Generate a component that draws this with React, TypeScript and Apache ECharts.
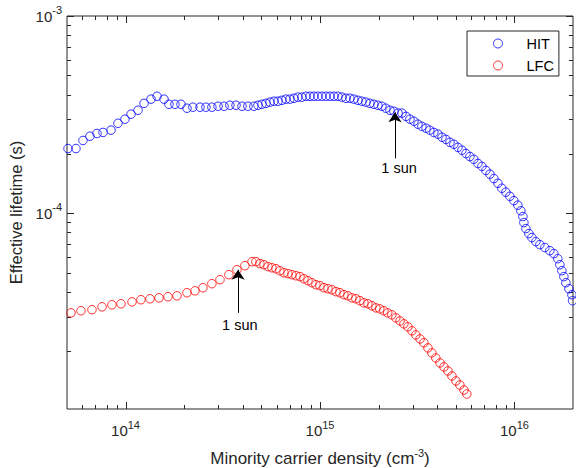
import React, { useEffect, useRef } from 'react';
import * as echarts from 'echarts';

// HIT (blue) data: minority carrier density (cm^-3) vs effective lifetime (s)
const hitDensity = [
  5.06e13, 5.56e13, 6.04e13, 6.56e13, 7.13e13, 7.66e13, 8.42e13, 9.14e13, 9.93e13, 1.067e14,
  1.159e14, 1.245e14, 1.352e14, 1.452e14, 1.577e14, 1.672e14, 1.795e14, 1.928e14, 2.07e14, 2.22e14,
  2.415e14, 2.59e14, 2.78e14, 2.99e14, 3.21e14, 3.44e14, 3.70e14, 3.97e14, 4.26e14, 4.57e14,
  4.80e14, 5.03e14, 5.27e14, 5.53e14, 5.80e14, 6.08e14, 6.37e14, 6.68e14, 7.00e14, 7.35e14,
  7.70e14, 8.07e14, 8.47e14, 8.88e14, 9.31e14, 9.75e14, 1.023e15, 1.073e15, 1.125e15, 1.18e15,
  1.236e15, 1.297e15, 1.36e15, 1.425e15, 1.494e15, 1.567e15, 1.643e15, 1.722e15, 1.806e15, 1.893e15,
  1.985e15, 2.08e15, 2.18e15, 2.29e15, 2.40e15, 2.52e15, 2.64e15, 2.77e15, 2.90e15, 3.04e15,
  3.19e15, 3.34e15, 3.51e15, 3.67e15, 3.85e15, 4.04e15, 4.24e15, 4.44e15, 4.66e15, 4.88e15,
  5.12e15, 5.37e15, 5.63e15, 5.90e15, 6.18e15, 6.49e15, 6.80e15, 7.13e15, 7.48e15, 7.84e15,
  8.22e15, 8.61e15, 9.03e15, 9.47e15, 9.93e15, 1.041e16, 1.079e16, 1.105e16, 1.118e16, 1.145e16,
  1.186e16, 1.229e16, 1.288e16, 1.351e16, 1.433e16, 1.52e16, 1.594e16, 1.67e16, 1.712e16, 1.753e16,
  1.795e16, 1.838e16, 1.905e16, 1.974e16, 1.99e16,
];
const hitLifetime = [
  2.13e-4, 2.13e-4, 2.34e-4, 2.46e-4, 2.54e-4, 2.57e-4, 2.64e-4, 2.86e-4, 3.00e-4, 3.18e-4,
  3.33e-4, 3.61e-4, 3.79e-4, 3.92e-4, 3.79e-4, 3.57e-4, 3.57e-4, 3.57e-4, 3.41e-4, 3.45e-4,
  3.45e-4, 3.45e-4, 3.45e-4, 3.49e-4, 3.49e-4, 3.53e-4, 3.53e-4, 3.49e-4, 3.49e-4, 3.49e-4,
  3.53e-4, 3.57e-4, 3.61e-4, 3.66e-4, 3.70e-4, 3.70e-4, 3.74e-4, 3.79e-4, 3.79e-4, 3.83e-4,
  3.88e-4, 3.88e-4, 3.92e-4, 3.92e-4, 3.92e-4, 3.92e-4, 3.92e-4, 3.92e-4, 3.92e-4, 3.92e-4,
  3.92e-4, 3.88e-4, 3.83e-4, 3.83e-4, 3.79e-4, 3.74e-4, 3.70e-4, 3.66e-4, 3.61e-4, 3.57e-4,
  3.53e-4, 3.49e-4, 3.41e-4, 3.33e-4, 3.29e-4, 3.22e-4, 3.22e-4, 3.10e-4, 3.00e-4, 2.93e-4,
  2.83e-4, 2.76e-4, 2.70e-4, 2.64e-4, 2.57e-4, 2.52e-4, 2.43e-4, 2.37e-4, 2.29e-4, 2.24e-4,
  2.16e-4, 2.09e-4, 2.01e-4, 1.94e-4, 1.88e-4, 1.79e-4, 1.73e-4, 1.65e-4, 1.58e-4, 1.50e-4,
  1.42e-4, 1.34e-4, 1.28e-4, 1.22e-4, 1.16e-4, 1.10e-4, 1.03e-4, 9.63e-5, 8.98e-5, 8.37e-5,
  7.90e-5, 7.54e-5, 7.19e-5, 6.94e-5, 6.71e-5, 6.47e-5, 6.25e-5, 5.89e-5, 5.49e-5, 5.12e-5,
  4.78e-5, 4.45e-5, 4.15e-5, 3.87e-5, 3.61e-5,
];

// LFC (red) data
const lfcDensity = [
  5.24e13, 5.90e13, 6.72e13, 7.57e13, 8.51e13, 9.48e13, 1.08e14, 1.20e14, 1.336e14, 1.486e14,
  1.653e14, 1.839e14, 2.07e14, 2.275e14, 2.50e14, 2.78e14, 3.06e14, 3.40e14, 3.74e14, 4.11e14,
  4.47e14, 4.68e14, 4.91e14, 5.15e14, 5.40e14, 5.66e14, 5.94e14, 6.22e14, 6.53e14, 6.84e14,
  7.17e14, 7.52e14, 7.89e14, 8.27e14, 8.67e14, 9.09e14, 9.53e14, 9.99e14, 1.048e15, 1.099e15,
  1.152e15, 1.208e15, 1.266e15, 1.328e15, 1.392e15, 1.459e15, 1.53e15, 1.604e15, 1.682e15, 1.764e15,
  1.849e15, 1.939e15, 2.03e15, 2.13e15, 2.23e15, 2.34e15, 2.455e15, 2.58e15, 2.70e15, 2.83e15,
  2.97e15, 3.11e15, 3.27e15, 3.42e15, 3.59e15, 3.76e15, 3.94e15, 4.14e15, 4.34e15, 4.55e15,
  4.77e15, 5.00e15, 5.24e15, 5.50e15, 5.69e15,
];
const lfcLifetime = [
  3.13e-5, 3.21e-5, 3.25e-5, 3.36e-5, 3.44e-5, 3.48e-5, 3.56e-5, 3.65e-5, 3.69e-5, 3.73e-5,
  3.78e-5, 3.82e-5, 3.96e-5, 4.05e-5, 4.20e-5, 4.40e-5, 4.61e-5, 4.89e-5, 5.18e-5, 5.43e-5,
  5.69e-5, 5.69e-5, 5.56e-5, 5.49e-5, 5.37e-5, 5.30e-5, 5.24e-5, 5.12e-5, 5.00e-5, 4.95e-5,
  4.89e-5, 4.83e-5, 4.78e-5, 4.66e-5, 4.56e-5, 4.45e-5, 4.35e-5, 4.30e-5, 4.20e-5, 4.15e-5,
  4.10e-5, 4.01e-5, 3.96e-5, 3.87e-5, 3.82e-5, 3.73e-5, 3.69e-5, 3.61e-5, 3.52e-5, 3.48e-5,
  3.40e-5, 3.32e-5, 3.28e-5, 3.21e-5, 3.13e-5, 3.06e-5, 2.955e-5, 2.85e-5, 2.755e-5, 2.66e-5,
  2.54e-5, 2.42e-5, 2.31e-5, 2.21e-5, 2.08e-5, 1.963e-5, 1.851e-5, 1.746e-5, 1.666e-5, 1.59e-5,
  1.499e-5, 1.415e-5, 1.35e-5, 1.273e-5, 1.215e-5,
];

// tick values
const xMajorTicks = [1e14, 1e15, 1e16];
const xMinorTicks = [6e13, 7e13, 8e13, 9e13, 2e14, 3e14, 4e14, 5e14, 6e14, 7e14, 8e14, 9e14,
  2e15, 3e15, 4e15, 5e15, 6e15, 7e15, 8e15, 9e15];
const yMajorTicks = [1e-4, 1e-3];
const yMinorTicks = [2e-5, 3e-5, 4e-5, 5e-5, 6e-5, 7e-5, 8e-5, 9e-5, 2e-4, 3e-4, 4e-4, 5e-4, 6e-4, 7e-4, 8e-4, 9e-4];

// axis bounds
const X_MIN = 5e13;
const X_MAX = 2e16;
const Y_MIN = 1.02e-5;
const Y_MAX = 1e-3;

// "1 sun" annotations: [x, tailY, tipY] and label [x, y]
const sunHitArrow = [2.43e15, 1.90e-4, 3.25e-4];
const sunHitLabel = [2.55e15, 1.69e-4];
const sunLfcArrow = [3.79e14, 3.13e-5, 5.18e-5];
const sunLfcLabel = [3.87e14, 2.72e-5];

const AX = '#262626';
const FONT = '"Liberation Sans", Arial, Helvetica, sans-serif';

function expLabel(v: number) {
  const e = Math.log10(v);
  if (Math.abs(e - Math.round(e)) > 1e-6) return '';
  return `{b|10}{e|${Math.round(e)}}`;
}

const richLabel = {
  b: { fontSize: 15, fontFamily: FONT, color: AX },
  e: { fontSize: 11, fontFamily: FONT, color: AX, padding: [0, 0, 12, 0] },
};

function annotation(arrow: number[], label: number[]) {
  return {
    markLine: {
      silent: true,
      animation: false,
      symbol: ['none', 'arrow'],
      symbolSize: 10,
      lineStyle: { color: '#000', width: 1, type: 'solid' },
      label: { show: false },
      emphasis: { disabled: true },
      data: [[{ coord: [arrow[0], arrow[1]] }, { coord: [arrow[0], arrow[2]] }]],
    },
    markPoint: {
      silent: true,
      animation: false,
      symbol: 'rect',
      symbolSize: 1,
      itemStyle: { color: 'rgba(0,0,0,0)' },
      label: { show: true, position: 'inside', formatter: '1 sun', color: '#000', fontSize: 14.5, fontFamily: FONT },
      data: [{ coord: [label[0], label[1]] }],
    },
  };
}

export default function App() {
  const ref = useRef<HTMLDivElement>(null);
  useEffect(() => {
    document.body.style.margin = '0';
    const chart = echarts.init(ref.current!, null, { renderer: 'svg' });

    const hitData = hitDensity.map((x, i) => [x, hitLifetime[i]]);
    const lfcData = lfcDensity.map((x, i) => [x, lfcLifetime[i]]);
    const xTickData = [
      ...xMajorTicks.map((v) => [v, Y_MIN, 1]),
      ...xMinorTicks.map((v) => [v, Y_MIN, 0]),
    ];
    const yTickData = [
      ...yMajorTicks.map((v) => [X_MIN, v, 1]),
      ...yMinorTicks.map((v) => [X_MIN, v, 0]),
    ];

    const option: any = {
      animation: false,
      backgroundColor: '#fff',
      textStyle: { fontFamily: FONT },
      grid: {
        left: 67, right: 3, top: 16, bottom: 59,
        show: true, borderColor: AX, borderWidth: 1, backgroundColor: 'transparent',
        containLabel: false, outerBoundsMode: 'none',
      },
      legend: {
        data: ['HIT', 'LFC'],
        orient: 'vertical',
        left: 467, top: 31,
        itemWidth: 9, itemHeight: 9, itemGap: 7,
        padding: [5, 5, 3, 26],
        borderColor: AX, borderWidth: 1, backgroundColor: '#fff',
        icon: 'circle',
        itemStyle: { borderWidth: 1 },
        formatter: (name: string) => `{g|}{t|${name}}`,
        textStyle: {
          fontSize: 14.5, color: '#000', fontFamily: FONT,
          rich: { g: { width: 19 }, t: { fontSize: 14.5, color: '#000', fontFamily: FONT } },
        },
        selectedMode: false,
      },
      xAxis: {
        type: 'log', logBase: 10, min: X_MIN, max: X_MAX,
        splitLine: { show: false },
        axisLine: { show: false },
        axisTick: { show: false },
        axisLabel: { show: true, formatter: expLabel, margin: 10, color: AX, rich: richLabel, showMinLabel: true, showMaxLabel: true },
        name: '{n|Minority carrier density (cm}{s|-3}{n|)}',
        nameLocation: 'middle', nameGap: 38,
        nameTextStyle: {
          color: AX,
          rich: {
            n: { fontSize: 17, fontFamily: FONT, color: AX },
            s: { fontSize: 11, fontFamily: FONT, color: AX, padding: [0, 0, 12, 0] },
          },
        },
      },
      yAxis: {
        type: 'log', logBase: 10, min: Y_MIN, max: Y_MAX,
        splitLine: { show: false },
        axisLine: { show: false },
        axisTick: { show: false },
        axisLabel: { show: true, formatter: expLabel, margin: 5, color: AX, rich: richLabel },
        name: 'Effective lifetime (s)',
        nameLocation: 'middle', nameGap: 43,
        nameTextStyle: { fontSize: 16.5, color: AX, fontFamily: FONT },
      },
      series: [
        {
          type: 'custom', silent: true, coordinateSystem: 'cartesian2d', z: 1,
          data: xTickData,
          encode: { x: 0, y: 1 },
          renderItem: (params: any, api: any) => {
            const cs = params.coordSys;
            const p = api.coord([api.value(0), api.value(1)]);
            const len = api.value(2) ? 7 : 4;
            const x = Math.round(p[0]) + 0.5;
            const yb = cs.y + cs.height;
            const yt = cs.y;
            return {
              type: 'group',
              children: [
                { type: 'line', shape: { x1: x, y1: yb, x2: x, y2: yb - len }, style: { stroke: AX, lineWidth: 1 } },
                { type: 'line', shape: { x1: x, y1: yt, x2: x, y2: yt + len }, style: { stroke: AX, lineWidth: 1 } },
              ],
            };
          },
        },
        {
          type: 'custom', silent: true, coordinateSystem: 'cartesian2d', z: 1,
          data: yTickData,
          encode: { x: 0, y: 1 },
          renderItem: (params: any, api: any) => {
            const cs = params.coordSys;
            const p = api.coord([api.value(0), api.value(1)]);
            const len = api.value(2) ? 7 : 4;
            const y = Math.round(p[1]) + 0.5;
            const xl = cs.x;
            const xr = cs.x + cs.width;
            return {
              type: 'group',
              children: [
                { type: 'line', shape: { x1: xl, y1: y, x2: xl + len, y2: y }, style: { stroke: AX, lineWidth: 1 } },
                { type: 'line', shape: { x1: xr, y1: y, x2: xr - len, y2: y }, style: { stroke: AX, lineWidth: 1 } },
              ],
            };
          },
        },
        {
          type: 'scatter', name: 'HIT', data: hitData,
          symbol: 'circle', symbolSize: 8.5, z: 3,
          itemStyle: { color: 'rgba(0,0,0,0)', borderColor: '#0000ff', borderWidth: 1 },
          emphasis: { disabled: true },
          ...annotation(sunHitArrow, sunHitLabel),
        },
        {
          type: 'scatter', name: 'LFC', data: lfcData,
          symbol: 'circle', symbolSize: 8.5, z: 3,
          itemStyle: { color: 'rgba(0,0,0,0)', borderColor: '#ff0000', borderWidth: 1 },
          emphasis: { disabled: true },
          ...annotation(sunLfcArrow, sunLfcLabel),
        },
      ],
    };
    chart.setOption(option);
    return () => chart.dispose();
  }, []);
  return <div ref={ref} style={{ width: 576, height: 468 }} />;
}
